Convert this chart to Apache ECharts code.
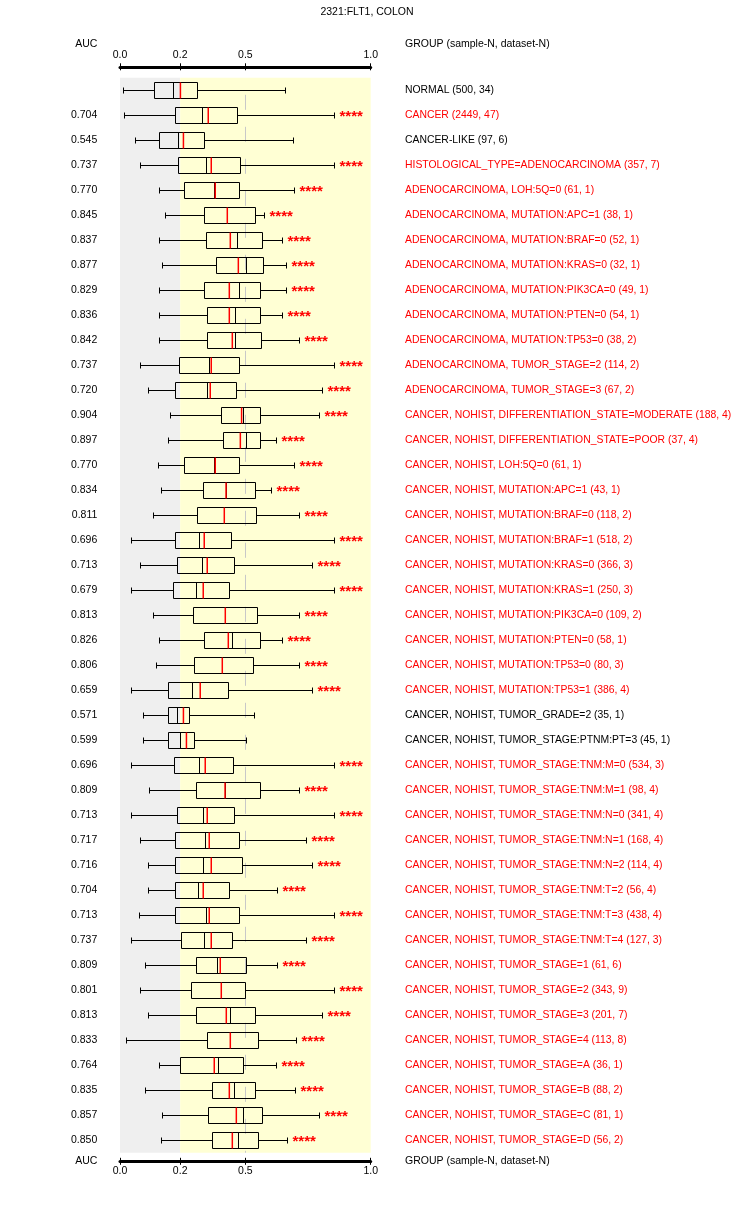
<!DOCTYPE html>
<html>
<head>
<meta charset="utf-8">
<title>2321:FLT1, COLON</title>
<script src="https://cdn.jsdelivr.net/npm/echarts@6/dist/echarts.min.js"></script>
<style>
  html, body { margin: 0; padding: 0; background: #fff; overflow: hidden; }
  #chart { width: 735px; height: 1205px; }
</style>
</head>
<body>
<div id="chart"></div>
<script>
// groups, top to bottom
var groups = [
    'NORMAL (500, 34)',
    'CANCER (2449, 47)',
    'CANCER-LIKE (97, 6)',
    'HISTOLOGICAL_TYPE=ADENOCARCINOMA (357, 7)',
    'ADENOCARCINOMA, LOH:5Q=0 (61, 1)',
    'ADENOCARCINOMA, MUTATION:APC=1 (38, 1)',
    'ADENOCARCINOMA, MUTATION:BRAF=0 (52, 1)',
    'ADENOCARCINOMA, MUTATION:KRAS=0 (32, 1)',
    'ADENOCARCINOMA, MUTATION:PIK3CA=0 (49, 1)',
    'ADENOCARCINOMA, MUTATION:PTEN=0 (54, 1)',
    'ADENOCARCINOMA, MUTATION:TP53=0 (38, 2)',
    'ADENOCARCINOMA, TUMOR_STAGE=2 (114, 2)',
    'ADENOCARCINOMA, TUMOR_STAGE=3 (67, 2)',
    'CANCER, NOHIST, DIFFERENTIATION_STATE=MODERATE (188, 4)',
    'CANCER, NOHIST, DIFFERENTIATION_STATE=POOR (37, 4)',
    'CANCER, NOHIST, LOH:5Q=0 (61, 1)',
    'CANCER, NOHIST, MUTATION:APC=1 (43, 1)',
    'CANCER, NOHIST, MUTATION:BRAF=0 (118, 2)',
    'CANCER, NOHIST, MUTATION:BRAF=1 (518, 2)',
    'CANCER, NOHIST, MUTATION:KRAS=0 (366, 3)',
    'CANCER, NOHIST, MUTATION:KRAS=1 (250, 3)',
    'CANCER, NOHIST, MUTATION:PIK3CA=0 (109, 2)',
    'CANCER, NOHIST, MUTATION:PTEN=0 (58, 1)',
    'CANCER, NOHIST, MUTATION:TP53=0 (80, 3)',
    'CANCER, NOHIST, MUTATION:TP53=1 (386, 4)',
    'CANCER, NOHIST, TUMOR_GRADE=2 (35, 1)',
    'CANCER, NOHIST, TUMOR_STAGE:PTNM:PT=3 (45, 1)',
    'CANCER, NOHIST, TUMOR_STAGE:TNM:M=0 (534, 3)',
    'CANCER, NOHIST, TUMOR_STAGE:TNM:M=1 (98, 4)',
    'CANCER, NOHIST, TUMOR_STAGE:TNM:N=0 (341, 4)',
    'CANCER, NOHIST, TUMOR_STAGE:TNM:N=1 (168, 4)',
    'CANCER, NOHIST, TUMOR_STAGE:TNM:N=2 (114, 4)',
    'CANCER, NOHIST, TUMOR_STAGE:TNM:T=2 (56, 4)',
    'CANCER, NOHIST, TUMOR_STAGE:TNM:T=3 (438, 4)',
    'CANCER, NOHIST, TUMOR_STAGE:TNM:T=4 (127, 3)',
    'CANCER, NOHIST, TUMOR_STAGE=1 (61, 6)',
    'CANCER, NOHIST, TUMOR_STAGE=2 (343, 9)',
    'CANCER, NOHIST, TUMOR_STAGE=3 (201, 7)',
    'CANCER, NOHIST, TUMOR_STAGE=4 (113, 8)',
    'CANCER, NOHIST, TUMOR_STAGE=A (36, 1)',
    'CANCER, NOHIST, TUMOR_STAGE=B (88, 2)',
    'CANCER, NOHIST, TUMOR_STAGE=C (81, 1)',
    'CANCER, NOHIST, TUMOR_STAGE=D (56, 2)'
];
var auc = ['', '0.704', '0.545', '0.737', '0.770', '0.845', '0.837', '0.877', '0.829', '0.836',
    '0.842', '0.737', '0.720', '0.904', '0.897', '0.770', '0.834', '0.811', '0.696', '0.713',
    '0.679', '0.813', '0.826', '0.806', '0.659', '0.571', '0.599', '0.696', '0.809', '0.713',
    '0.717', '0.716', '0.704', '0.713', '0.737', '0.809', '0.801', '0.813', '0.833', '0.764',
    '0.835', '0.857', '0.850'];
var lows = [0.013, 0.017, 0.061, 0.081, 0.154, 0.181, 0.157, 0.166, 0.157, 0.157,
    0.157, 0.081, 0.113, 0.201, 0.193, 0.153, 0.165, 0.133, 0.045, 0.078,
    0.045, 0.133, 0.157, 0.145, 0.045, 0.093, 0.093, 0.045, 0.117, 0.045,
    0.081, 0.113, 0.113, 0.077, 0.045, 0.101, 0.081, 0.113, 0.025, 0.157,
    0.101, 0.169, 0.165];
var q1s = [0.137, 0.221, 0.157, 0.233, 0.257, 0.336, 0.344, 0.384, 0.336, 0.348,
    0.348, 0.237, 0.221, 0.404, 0.412, 0.257, 0.332, 0.308, 0.221, 0.229,
    0.213, 0.293, 0.336, 0.297, 0.193, 0.193, 0.193, 0.217, 0.304, 0.229,
    0.221, 0.221, 0.221, 0.221, 0.245, 0.304, 0.285, 0.304, 0.348, 0.241,
    0.368, 0.352, 0.368];
var medians = [0.213, 0.328, 0.233, 0.344, 0.374, 0.428, 0.468, 0.504, 0.476, 0.460,
    0.460, 0.354, 0.348, 0.492, 0.504, 0.374, 0.423, 0.416, 0.316, 0.328,
    0.302, 0.420, 0.448, 0.408, 0.289, 0.229, 0.241, 0.316, 0.419, 0.332,
    0.340, 0.332, 0.312, 0.344, 0.336, 0.388, 0.404, 0.440, 0.440, 0.392,
    0.456, 0.492, 0.472];
var q3s = [0.306, 0.468, 0.334, 0.480, 0.476, 0.540, 0.565, 0.572, 0.560, 0.560,
    0.564, 0.476, 0.464, 0.560, 0.560, 0.476, 0.540, 0.544, 0.444, 0.456,
    0.436, 0.548, 0.560, 0.532, 0.432, 0.277, 0.297, 0.452, 0.560, 0.456,
    0.476, 0.488, 0.436, 0.476, 0.448, 0.504, 0.500, 0.540, 0.552, 0.492,
    0.540, 0.568, 0.552];
var highs = [0.657, 0.855, 0.691, 0.855, 0.695, 0.576, 0.648, 0.663, 0.663, 0.648,
    0.715, 0.855, 0.807, 0.795, 0.624, 0.695, 0.604, 0.713, 0.855, 0.767,
    0.855, 0.715, 0.648, 0.715, 0.767, 0.536, 0.504, 0.855, 0.715, 0.855,
    0.743, 0.767, 0.628, 0.855, 0.743, 0.628, 0.855, 0.807, 0.703, 0.624,
    0.699, 0.795, 0.667];
var means = [0.241, 0.352, 0.253, 0.364, 0.380, 0.428, 0.440, 0.472, 0.436, 0.436,
    0.448, 0.364, 0.360, 0.485, 0.480, 0.380, 0.423, 0.416, 0.336, 0.348,
    0.332, 0.420, 0.432, 0.408, 0.320, 0.253, 0.265, 0.340, 0.419, 0.348,
    0.356, 0.364, 0.332, 0.356, 0.364, 0.400, 0.404, 0.424, 0.440, 0.376,
    0.436, 0.464, 0.448];
// rows without significance stars, also drawn with black labels
var plainRows = [0, 2, 25, 26];

var tickValues = [0, 0.24, 0.5, 1];
var tickLabels = ['0.0', '0.2', '0.5', '1.0'];
var shadeEdges = [0, 0.24, 1];
var refLine = 0.5;

var FONT = '"Liberation Sans", Arial, sans-serif';
var FONT_SIZE = 10.5;

var boxData = groups.map(function (g, i) {
    return [i, lows[i], q1s[i], medians[i], q3s[i], highs[i], means[i]];
});
var shadeData = [
    [shadeEdges[0], shadeEdges[1], 0],
    [shadeEdges[1], shadeEdges[2], 0]
];
var shadeColors = ['#efefef', '#ffffd4'];

function tickText(v) {
    var k = tickValues.indexOf(v);
    return k >= 0 ? tickLabels[k] : '';
}

function renderShade(params, api) {
    var cs = params.coordSys;
    var x0 = api.coord([api.value(0), 0])[0];
    var x1 = api.coord([api.value(1), 0])[0];
    return {
        type: 'rect',
        shape: { x: x0, y: cs.y, width: x1 - x0, height: cs.height },
        style: { fill: shadeColors[params.dataIndex] }
    };
}

function renderRef(params, api) {
    var cs = params.coordSys;
    var x = Math.round(api.coord([api.value(0), 0])[0]) + 0.5;
    return {
        type: 'line',
        shape: { x1: x, y1: cs.y, x2: x, y2: cs.y + cs.height },
        style: { stroke: '#c8c8c8', lineWidth: 1, lineDash: [15, 17], lineDashOffset: 15 }
    };
}

function renderBox(params, api) {
    var i = api.value(0);
    var yc = Math.round(api.coord([0, i])[1]) + 0.5;
    var px = function (dim) {
        return Math.round(api.coord([api.value(dim), i])[0]) + 0.5;
    };
    var xl = px(1), xq1 = px(2), xm = px(3), xq3 = px(4), xh = px(5);
    var xa = api.coord([api.value(6), i])[0];
    var black = { stroke: '#000', lineWidth: 1 };
    var children = [
        { type: 'line', shape: { x1: xl, y1: yc, x2: xq1, y2: yc }, style: black },
        { type: 'line', shape: { x1: xq3, y1: yc, x2: xh, y2: yc }, style: black },
        { type: 'line', shape: { x1: xl, y1: yc - 3, x2: xl, y2: yc + 3 }, style: black },
        { type: 'line', shape: { x1: xh, y1: yc - 3, x2: xh, y2: yc + 3 }, style: black },
        { type: 'rect', shape: { x: xq1, y: yc - 8, width: xq3 - xq1, height: 16 },
            style: { fill: 'none', stroke: '#000', lineWidth: 1 } },
        { type: 'line', shape: { x1: xm, y1: yc - 8, x2: xm, y2: yc + 8 }, style: black },
        { type: 'line', shape: { x1: xa, y1: yc - 8, x2: xa, y2: yc + 8 },
            style: { stroke: '#ff0000', lineWidth: 1.5 } }
    ];
    if (plainRows.indexOf(i) < 0) {
        children.push({
            type: 'text',
            x: xh + 5,
            y: yc + 1.5,
            style: {
                text: '****', fill: '#ff0000', fontSize: 15, fontWeight: 'bold',
                fontFamily: FONT, align: 'left', verticalAlign: 'middle'
            }
        });
    }
    return { type: 'group', children: children };
}

function headerText(x, y, text, align) {
    return {
        type: 'text', x: x, y: y,
        style: {
            text: text, fill: '#000', fontSize: FONT_SIZE, fontFamily: FONT,
            align: align, verticalAlign: 'middle'
        }
    };
}

var axisBase = { type: 'value', min: 0, max: 1, splitLine: { show: false } };

var chart = echarts.init(document.getElementById('chart'), null, { renderer: 'canvas' });
var option = {
    backgroundColor: '#fff',
    animation: false,
    grid: { left: 120, width: 250.7, top: 77.8, height: 1075, containLabel: false },
    graphic: [
        headerText(367, 12, '2321:FLT1, COLON', 'center'),
        headerText(97.3, 44, 'AUC', 'right'),
        headerText(405, 44, 'GROUP (sample-N, dataset-N)', 'left'),
        headerText(97.3, 1161.3, 'AUC', 'right'),
        headerText(405, 1161.3, 'GROUP (sample-N, dataset-N)', 'left')
    ],
    xAxis: [
        Object.assign({}, axisBase, {
            position: 'top', offset: 11,
            axisLine: { show: true, lineStyle: { color: '#000', width: 3 } },
            axisTick: { show: true, customValues: tickValues, length: 3.5, lineStyle: { color: '#000', width: 1 } },
            axisLabel: { customValues: tickValues, formatter: tickText, margin: 6, color: '#000',
                fontSize: FONT_SIZE, fontFamily: FONT }
        }),
        Object.assign({}, axisBase, {
            position: 'top', offset: 11,
            axisLine: { show: false },
            axisTick: { show: true, inside: true, customValues: tickValues, length: 3.5, lineStyle: { color: '#000', width: 1 } },
            axisLabel: { show: false }
        }),
        Object.assign({}, axisBase, {
            position: 'bottom', offset: 8.5,
            axisLine: { show: true, lineStyle: { color: '#000', width: 3 } },
            axisTick: { show: true, customValues: tickValues, length: 3.5, lineStyle: { color: '#000', width: 1 } },
            axisLabel: { customValues: tickValues, formatter: tickText, margin: 4, color: '#000',
                fontSize: FONT_SIZE, fontFamily: FONT }
        }),
        Object.assign({}, axisBase, {
            position: 'bottom', offset: 8.5,
            axisLine: { show: false },
            axisTick: { show: true, inside: true, customValues: tickValues, length: 3.5, lineStyle: { color: '#000', width: 1 } },
            axisLabel: { show: false }
        })
    ],
    yAxis: [
        {
            type: 'category', position: 'left', inverse: true, data: groups,
            axisLine: { show: false }, axisTick: { show: false }, splitLine: { show: false },
            axisLabel: {
                interval: 0, margin: 22.7, color: '#000', fontSize: FONT_SIZE, fontFamily: FONT,
                formatter: function (v, idx) { return auc[idx]; }
            }
        },
        {
            type: 'category', position: 'right', inverse: true, data: groups,
            axisLine: { show: false }, axisTick: { show: false }, splitLine: { show: false },
            axisLabel: {
                interval: 0, margin: 34.3, fontSize: 10.4, fontFamily: FONT,
                color: function (v, idx) { return plainRows.indexOf(idx) >= 0 ? '#000' : '#ff0000'; }
            }
        }
    ],
    series: [
        {
            type: 'custom', name: 'shade', xAxisIndex: 0, yAxisIndex: 0, z: 1,
            renderItem: renderShade, encode: { x: [0, 1], y: 2 }, data: shadeData, silent: true
        },
        {
            type: 'custom', name: 'ref', xAxisIndex: 0, yAxisIndex: 0, z: 2,
            renderItem: renderRef, encode: { x: 0, y: 1 }, data: [[refLine, 0]], silent: true
        },
        {
            type: 'custom', name: 'auc', xAxisIndex: 0, yAxisIndex: 0, z: 3,
            renderItem: renderBox, encode: { x: [1, 2, 3, 4, 5, 6], y: 0 }, data: boxData
        }
    ]
};
chart.setOption(option);
</script>
</body>
</html>
